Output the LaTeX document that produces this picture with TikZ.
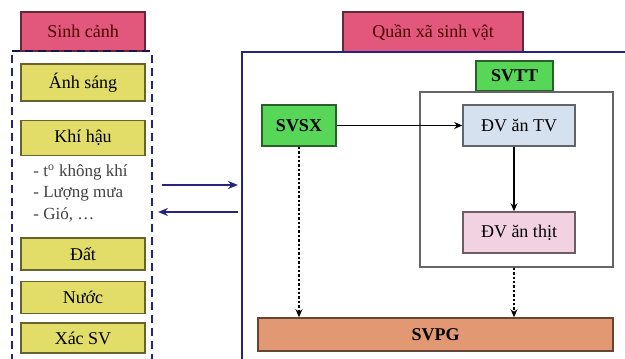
\documentclass[tikz,border=0pt]{standalone}
\usepackage{fontspec}
\setmainfont{Liberation Serif}
\usetikzlibrary{arrows.meta,positioning,calc}
\definecolor{hdrpink}{RGB}{226,88,124}
\definecolor{envyellow}{RGB}{226,221,104}
\definecolor{orggreen}{RGB}{88,214,88}
\definecolor{herbblue}{RGB}{214,225,240}
\definecolor{carnpink}{RGB}{242,210,224}
\definecolor{decorange}{RGB}{226,152,114}
\definecolor{framenavy}{RGB}{36,36,130}

\begin{document}
\begin{tikzpicture}[
  x=0.5pt, y=-0.5pt,
  box/.style  = {rectangle, draw=#1!45!black, fill=#1, line width=0.8pt,
                 inner sep=0pt, font=\fontsize{9}{11}\selectfont, align=center},
  envbox/.style = {box=envyellow, minimum width=62pt},
  arr/.style  = {-{Stealth[length=4pt,width=3.5pt]}, line width=0.6pt, #1},
  link/.style = {-{Stealth[length=5pt,width=4pt]}, line width=1pt, framenavy},
  envedge/.style = {framenavy, line width=1.4pt, dash pattern=on 4pt off 2.5pt},
]
\useasboundingbox (0,0) rectangle (625,358);
\clip (0,0) rectangle (625,358);

% environment column
\node[box=hdrpink, minimum width=62pt, minimum height=19.5pt, text=black!70!red]
  (sinhcanh) at (83,31.5) {Sinh cảnh};
\draw[envedge, framenavy!60!black] (12,51) -- (152,51);
\draw[envedge] (12,55) -- (12,362);
\draw[envedge] (152,55) -- (152,362);

\node[envbox, minimum height=18.5pt] (anhsang) at (83,82.5) {Ánh sáng};
\node[envbox, minimum height=17.5pt, below=9pt of anhsang] (khihau) {Khí hậu};
\node[anchor=west, align=left, text=black!75, inner sep=0pt,
      font=\fontsize{8.5}{10.8}\selectfont] (khihaulist) at (33,193)
  {- t\textsuperscript{o} không khí\\- Lượng mưa\\- Gió, \dots};
\node[envbox, minimum height=16pt] (dat) at (83,254) {Đất};
\node[envbox, minimum height=16pt, below=5pt of dat]  (nuoc) {Nước};
\node[envbox, minimum height=15pt, below=4pt of nuoc] (xacsv) {Xác SV};

% community
\node[box=hdrpink, minimum width=90pt, minimum height=20pt, text=black!70!red]
  (quanxa) at (433,32) {Quần xã sinh vật};
\draw[framenavy, line width=1.4pt] (630,52) -- (242,52) -- (242,362);

\node[box=orggreen, minimum width=38.5pt, minimum height=15pt,
      font=\fontsize{9}{11}\selectfont\bfseries] (svtt) at (514.5,76) {SVTT};
\node[draw=black!60, line width=0.8pt, minimum width=96.5pt, minimum height=87.5pt,
      inner sep=0pt] (ttframe) at (516.5,179.5) {};
\node[box=orggreen, minimum width=37pt, minimum height=20.5pt,
      font=\fontsize{9}{11}\selectfont\bfseries] (svsx) at (299,125.5) {SVSX};
\node[box=herbblue, minimum width=56pt, minimum height=20.5pt] (dvtv)
  at (519,125.5) {ĐV ăn TV};
\node[box=carnpink, minimum width=56pt, minimum height=20.5pt] (dvthit)
  at (519,232.5) {ĐV ăn thịt};
\node[box=decorange, minimum width=177.5pt, minimum height=16.5pt,
      font=\fontsize{9}{11}\selectfont\bfseries] (svpg) at (435.5,334.5) {SVPG};

\draw[arr=black] (svsx.east) -- (dvtv.west);
\draw[arr=black] ([xshift=-2.5pt]dvtv.south) -- ([xshift=-2.5pt]dvthit.north);
\draw[arr=black, dash pattern=on 1.2pt off 1pt] (svsx.south) -- (svsx.south |- svpg.north);
\draw[arr=black, dash pattern=on 1.2pt off 1pt] ([xshift=-2.5pt]dvthit.south |- ttframe.south)
  -- ([xshift=-2.5pt]dvthit.south |- svpg.north);

% exchange between environment and community
\coordinate (envout) at (162,185);
\coordinate (comin)  at (238,185);
\coordinate (comout) at (238,212);
\coordinate (envin)  at (158,212);
\draw[link] (envout) -- (comin);
\draw[link] (comout) -- (envin);
\end{tikzpicture}
\end{document}
